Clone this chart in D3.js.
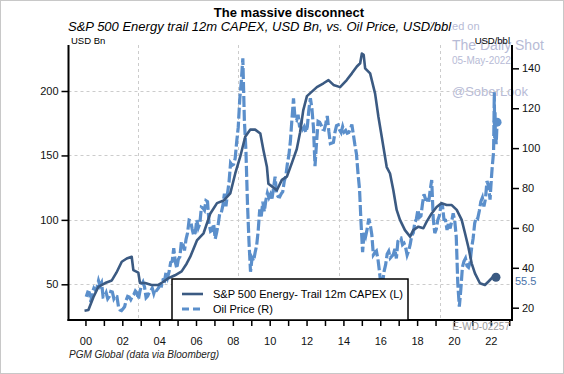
<!DOCTYPE html>
<html lang="en">

<head>
    <meta charset="UTF-8">
    <title>The massive disconnect</title>
    <script src="https://d3js.org/d3.v7.min.js"></script>
    <style>
        body { margin: 0; background: #fff; }
        svg { display: block; font-family: "Liberation Sans", Arial, sans-serif; }
    </style>
</head>

<body>
    <svg id="chart" width="564" height="374"></svg>

    <script>
        // S&P 500 Energy trailing 12m CAPEX, USD Bn (left axis)
        const capexYears = [1999.95, 2000.16, 2000.43, 2000.70, 2001.07, 2001.43, 2001.68, 2001.97, 2002.24, 2002.51,
            2002.60, 2002.87, 2002.96, 2003.24, 2003.59, 2003.96, 2004.23, 2004.50, 2004.86, 2005.22,
            2005.49, 2005.69, 2006.05, 2006.41, 2006.78, 2007.14, 2007.50, 2007.86, 2008.13, 2008.40,
            2008.67, 2008.94, 2009.21, 2009.49, 2009.66, 2009.85, 2009.93, 2010.12, 2010.39, 2010.66,
            2010.93, 2011.20, 2011.47, 2011.65, 2011.82, 2012.02, 2012.56, 2012.92, 2013.19, 2013.46,
            2013.82, 2014.18, 2014.46, 2014.73, 2014.91, 2015.00, 2015.10, 2015.18, 2015.45, 2015.72,
            2015.90, 2016.08, 2016.35, 2016.53, 2016.71, 2016.89, 2017.07, 2017.34, 2017.62, 2017.79,
            2018.07, 2018.34, 2018.52, 2018.79, 2019.06, 2019.33, 2019.60, 2019.88, 2020.15, 2020.42,
            2020.60, 2020.78, 2020.96, 2021.14, 2021.41, 2021.68, 2021.86, 2022.13, 2022.28];
        const capexValues = [29.5, 30, 40, 48, 51, 53, 59, 67.5, 70, 71.4,
            61, 59, 51, 51, 49.5, 49.5, 52, 54.7, 57, 60,
            66, 71.4, 84, 89.6, 105, 113, 115, 120.6, 136, 149,
            164.5, 170, 170, 167, 154, 141, 128, 126, 123, 131,
            133.5, 144, 155, 168, 185, 196, 203, 206, 208.5, 204.7,
            203, 208.5, 213.7, 219, 221.5, 229, 228, 217.6, 213.7, 198,
            180, 164.5, 141, 136, 123, 107.7, 100, 92, 87, 92,
            94.7, 93.5, 98.6, 105, 110, 113, 111.5, 111.5, 107.7, 100,
            89.6, 79, 66.3, 58.5, 50.8, 49.5, 52, 56, 55.5];

        // Oil price, USD/bbl (right axis), one value per month from Jan 2000
        const oilStartYear = 2000;
        const oilMonthly = [
            25.5, 27.8, 27.5, 22.8, 27.6, 29.8, 28.7, 30.1, 33.5, 31.0, 32.5, 25.4,
            25.6, 27.5, 24.5, 25.6, 28.1, 27.9, 24.5, 25.8, 25.6, 20.5, 18.9, 18.6,
            19.5, 20.5, 23.7, 25.7, 25.4, 24.1, 25.7, 26.6, 28.4, 27.5, 24.3, 28.3,
            31.2, 32.8, 30.3, 25.0, 25.8, 27.6, 28.4, 29.8, 27.1, 29.6, 28.8, 29.8,
            31.2, 30.9, 33.8, 33.4, 37.9, 35.2, 38.2, 42.7, 43.2, 49.8, 43.1, 39.7,
            44.3, 45.6, 53.1, 51.9, 48.7, 54.3, 57.5, 63.9, 63.5, 59.4, 56.2, 57.6,
            63.9, 60.1, 62.1, 70.4, 70.0, 68.9, 73.7, 73.2, 62.4, 58.3, 58.8, 62.0,
            54.5, 57.8, 62.1, 67.5, 67.7, 71.3, 77.2, 70.8, 77.1, 82.9, 92.5, 91.4,
            91.9, 94.8, 103.3, 110.4, 124.6, 133.5, 145.0, 113.9, 99.1, 72.8, 53.2, 38.0,
            44.9, 43.4, 47.7, 51.2, 58.6, 69.3, 65.8, 73.1, 68.2, 73.9, 77.5, 75.2,
            76.9, 74.7, 79.9, 85.7, 77.0, 75.7, 75.5, 77.1, 78.2, 83.5, 86.1, 92.0,
            96.5, 103.7, 114.6, 125.0, 114.5, 113.9, 116.7, 110.4, 112.8, 109.6, 110.8, 107.9,
            110.7, 119.3, 125.0, 119.8, 110.3, 91.0, 102.6, 113.4, 113.0, 111.5, 109.5, 109.2,
            112.3, 116.1, 108.5, 102.3, 102.6, 102.9, 107.9, 111.3, 111.6, 109.1, 107.8, 110.8,
            108.1, 108.9, 107.5, 107.8, 109.5, 111.8, 106.8, 101.6, 97.1, 87.4, 79.4, 62.3,
            47.8, 58.1, 55.9, 59.5, 64.6, 61.5, 56.6, 46.5, 47.6, 48.4, 44.3, 38.0,
            30.7, 32.2, 38.2, 41.6, 46.9, 48.3, 44.9, 45.8, 46.6, 49.5, 44.7, 53.3,
            54.6, 54.9, 51.6, 52.3, 50.3, 46.4, 48.5, 51.7, 56.2, 57.5, 62.7, 64.4,
            69.1, 65.3, 66.0, 72.1, 76.9, 74.4, 74.3, 72.5, 78.9, 84.0, 64.8, 57.4,
            59.4, 64.0, 66.1, 71.2, 71.3, 64.2, 63.9, 59.0, 62.8, 59.7, 63.2, 67.3,
            63.7, 55.5, 32.0, 20.5, 29.4, 40.3, 43.2, 44.7, 40.9, 40.2, 42.7, 49.9,
            54.8, 62.3, 65.4, 64.8, 68.5, 73.2, 75.2, 70.8, 74.5, 83.5, 81.1, 74.2
        ];
        // 2022 readings, closer together
        const oilTailYears = [2022.04, 2022.08, 2022.12, 2022.15, 2022.17, 2022.19, 2022.21, 2022.23, 2022.25, 2022.27, 2022.29, 2022.31, 2022.34];
        const oilTailValues = [86, 91, 95, 98, 112, 128, 105, 118, 104, 108, 102, 106, 113];

        const leftTicks = [50, 100, 150, 200];
        const rightTicks = [20, 40, 60, 80, 100, 120, 140];
        const yearTicks = d3.range(2000, 2024);
        const gridYears = [2002.83, 2008.3, 2013.78, 2019.25];

        const capexColor = "#3b5a82";
        const oilColor = "#5b8fcb";

        const svg = d3.select("#chart");
        const width = +svg.attr("width");
        const height = +svg.attr("height");

        const plot = { left: 68.5, right: 512, top: 45, bottom: 320 };

        const x = d3.scaleLinear().domain([1999.08, 2023.15]).range([plot.left, plot.right]);
        const yL = d3.scaleLinear().domain([22.3, 235.7]).range([plot.bottom, plot.top]);
        const yR = d3.scaleLinear().domain([13.83, 151.7]).range([plot.bottom, plot.top]);

        const capex = capexYears.map((t, i) => ({ t: t, v: capexValues[i] }));
        const oil = oilMonthly.map((v, i) => ({ t: oilStartYear + (i + 0.5) / 12, v: v }))
            .concat(oilTailYears.map((t, i) => ({ t: t, v: oilTailValues[i] })));

        // outer frame
        svg.append("rect")
            .attr("x", 0.5).attr("y", 0.5)
            .attr("width", width - 1).attr("height", height - 1)
            .attr("fill", "#fff")
            .attr("stroke", "#c8c8c8");

        // watermark
        const wm = svg.append("g").attr("fill", "#b7bbd6");
        wm.append("text").attr("x", 430).attr("y", 30).style("font-size", "11px").text("Posted on");
        wm.append("text").attr("x", 452).attr("y", 50).style("font-size", "14px").text("The Daily Shot");
        wm.append("text").attr("x", 452).attr("y", 64).style("font-size", "10px").text("05-May-2022");
        wm.append("text").attr("x", 452).attr("y", 96).style("font-size", "13px").text("@SoberLook");

        // gridlines
        const grid = svg.append("g")
            .attr("stroke", "#cccccc")
            .attr("stroke-width", 1)
            .attr("stroke-dasharray", "3,3");

        grid.selectAll("line.h")
            .data(leftTicks)
            .enter()
            .append("line")
            .attr("x1", plot.left).attr("x2", plot.right)
            .attr("y1", d => Math.round(yL(d)) + 0.5)
            .attr("y2", d => Math.round(yL(d)) + 0.5);

        grid.selectAll("line.v")
            .data(gridYears)
            .enter()
            .append("line")
            .attr("y1", plot.top).attr("y2", plot.bottom)
            .attr("x1", d => Math.round(x(d)) + 0.5)
            .attr("x2", d => Math.round(x(d)) + 0.5);

        // series
        const oilLine = d3.line().x(d => x(d.t)).y(d => yR(d.v));
        const capexLine = d3.line().x(d => x(d.t)).y(d => yL(d.v));

        svg.append("path")
            .datum(oil)
            .attr("d", oilLine)
            .attr("fill", "none")
            .attr("stroke", oilColor)
            .attr("stroke-width", 3.2)
            .attr("stroke-dasharray", "11,3");

        svg.append("path")
            .datum(capex)
            .attr("d", capexLine)
            .attr("fill", "none")
            .attr("stroke", capexColor)
            .attr("stroke-width", 2.6)
            .attr("stroke-linejoin", "round");

        const lastOil = oil[oil.length - 1];
        const lastCapex = capex[capex.length - 1];

        svg.append("circle")
            .attr("cx", x(lastOil.t)).attr("cy", yR(lastOil.v))
            .attr("r", 4.5).attr("fill", oilColor);

        svg.append("circle")
            .attr("cx", x(lastCapex.t)).attr("cy", yL(lastCapex.v))
            .attr("r", 4.5).attr("fill", capexColor);

        svg.append("text")
            .attr("x", plot.right + 3)
            .attr("y", yL(lastCapex.v) + 8)
            .attr("fill", "#4a72a8")
            .style("font-size", "11px")
            .text(lastCapex.v);

        // axes
        const leftAxis = svg.append("g")
            .attr("transform", `translate(${plot.left},0)`)
            .call(d3.axisLeft(yL).tickValues(leftTicks).tickSize(7).tickPadding(3));

        const rightAxis = svg.append("g")
            .attr("transform", `translate(${plot.right},0)`)
            .call(d3.axisRight(yR).tickValues(rightTicks).tickSize(7).tickPadding(3));

        const bottomAxis = svg.append("g")
            .attr("transform", `translate(0,${plot.bottom})`)
            .call(d3.axisBottom(x).tickValues(yearTicks).tickSize(6).tickPadding(11)
                .tickFormat(d => (d % 2 === 0 ? String(d).slice(2) : "")));

        [leftAxis, rightAxis, bottomAxis].forEach(a => {
            a.select(".domain").attr("stroke", "#000").attr("stroke-width", 2);
            a.selectAll(".tick line").attr("stroke", "#000").attr("stroke-width", 1.5);
            a.selectAll("text")
                .attr("fill", "#111")
                .style("font-family", "Liberation Sans, Arial, sans-serif")
                .style("font-size", "11px");
        });

        // the axes run all the way over the plot, no end caps
        leftAxis.select(".domain").attr("d", `M0,${plot.top}V${plot.bottom + 1}`);
        rightAxis.select(".domain").attr("d", `M0,${plot.top}V${plot.bottom + 1}`);
        bottomAxis.select(".domain").attr("d", `M${plot.left - 1},0H${plot.right + 1}`);

        // legend
        const legend = svg.append("g").attr("transform", "translate(172,279)");

        legend.append("rect")
            .attr("width", 236).attr("height", 41)
            .attr("fill", "#fff")
            .attr("stroke", "#000")
            .attr("stroke-width", 1.5);

        legend.append("line")
            .attr("x1", 10).attr("x2", 31)
            .attr("y1", 15).attr("y2", 15)
            .attr("stroke", capexColor).attr("stroke-width", 2.6);

        legend.append("line")
            .attr("x1", 10).attr("x2", 31)
            .attr("y1", 30).attr("y2", 30)
            .attr("stroke", oilColor).attr("stroke-width", 3)
            .attr("stroke-dasharray", "7,4");

        legend.append("text")
            .attr("x", 41).attr("y", 19)
            .style("font-size", "11px")
            .text("S&P 500 Energy- Trail 12m CAPEX (L)");

        legend.append("text")
            .attr("x", 41).attr("y", 34)
            .style("font-size", "11px")
            .text("Oil Price (R)");

        // titles and notes
        svg.append("text")
            .attr("x", 289).attr("y", 17)
            .attr("text-anchor", "middle")
            .style("font-size", "13px")
            .style("font-weight", "bold")
            .text("The massive disconnect");

        svg.append("text")
            .attr("x", 68).attr("y", 31)
            .style("font-size", "13px")
            .style("font-style", "italic")
            .attr("stroke", "#fff").attr("stroke-width", 3)
            .style("paint-order", "stroke")
            .text("S&P 500 Energy trail 12m CAPEX, USD Bn, vs. Oil Price, USD/bbl");

        svg.append("text")
            .attr("x", 71).attr("y", 44)
            .style("font-size", "9.5px")
            .text("USD Bn");

        svg.append("text")
            .attr("x", 510).attr("y", 44)
            .attr("text-anchor", "end")
            .style("font-size", "9.5px")
            .text("USD/bbl");

        svg.append("text")
            .attr("x", 510).attr("y", 330)
            .attr("text-anchor", "end")
            .attr("fill", "#9a9a9a")
            .style("font-size", "10px")
            .text("E-WD-02257");

        svg.append("text")
            .attr("x", 69).attr("y", 358)
            .style("font-size", "10px")
            .style("font-style", "italic")
            .attr("fill", "#222")
            .text("PGM Global (data via Bloomberg)");
    </script>
</body>

</html>
